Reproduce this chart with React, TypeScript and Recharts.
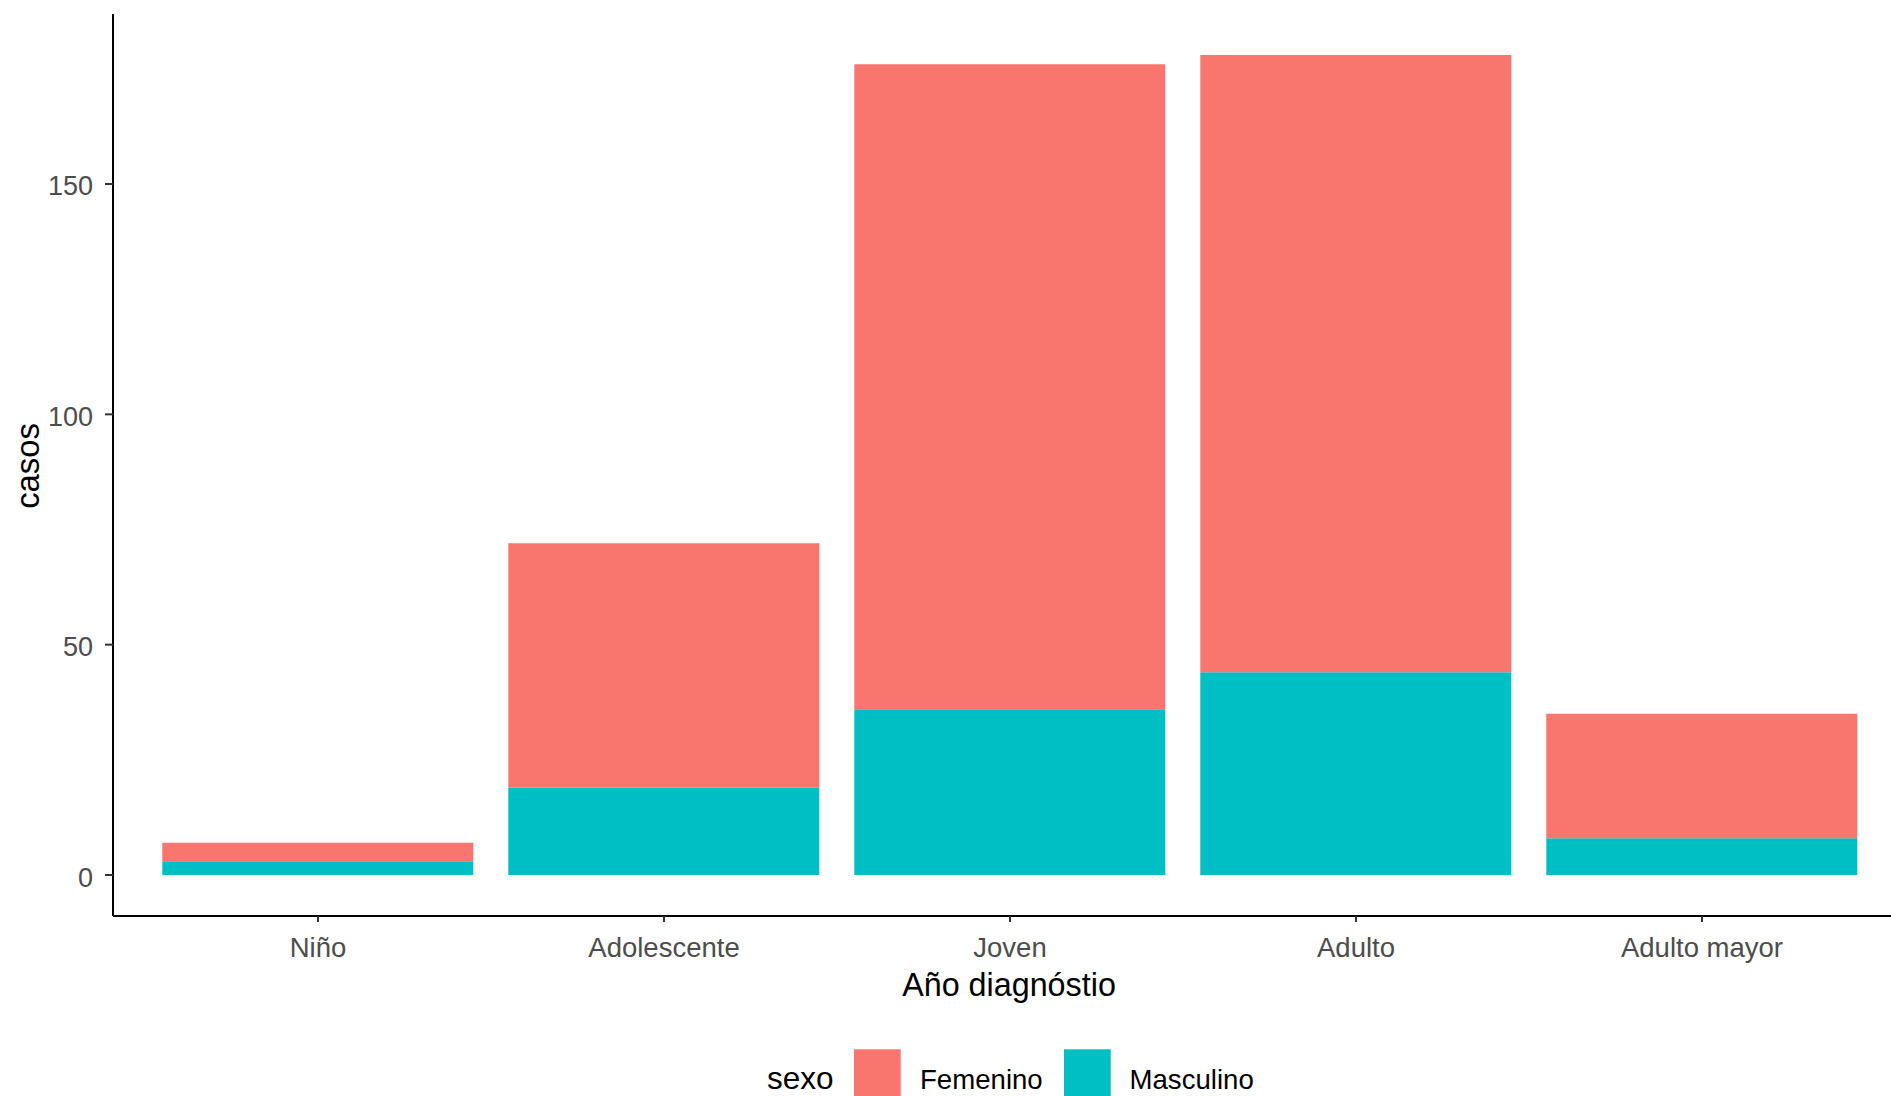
import React from 'react';
import { BarChart, Bar, XAxis, YAxis, Customized } from 'recharts';

const categorias = ['Niño', 'Adolescente', 'Joven', 'Adulto', 'Adulto mayor'];
const femenino = [4, 53, 140, 134, 27];
const masculino = [3, 19, 36, 44, 8];
const yTicks = [0, 50, 100, 150];
const serieNombres = ['Femenino', 'Masculino'];
const colores = ['#F8766D', '#00BFC4'];
const tituloX = 'Año diagnóstio';
const tituloY = 'casos';
const tituloLeyenda = 'sexo';

const data = categorias.map((c, i) => ({
  categoria: c,
  Femenino: femenino[i],
  Masculino: masculino[i],
}));

const totales = categorias.map((_, i) => femenino[i] + masculino[i]);
const maxTotal = Math.max(...totales);
const expansion = maxTotal * 0.05;
const yDomain: [number, number] = [-expansion, maxTotal + expansion];

const FONT = '"Liberation Sans", Arial, sans-serif';

const XTick = (props: any) => {
  const { x, y, payload } = props;
  return (
    <text x={x} y={y + 21.5} textAnchor="middle" fontFamily={FONT} fontSize={27.5} fill="#4D4D4D">
      {payload.value}
    </text>
  );
};

const YTick = (props: any) => {
  const { x, y, payload } = props;
  return (
    <text x={x} y={y + 11.5} textAnchor="end" fontFamily={FONT} fontSize={27} fill="#4D4D4D">
      {payload.value}
    </text>
  );
};

const Overlay = () => (
  <g>
    <text x={1009} y={996} textAnchor="middle" fontFamily={FONT} fontSize={32.3} fill="#000">
      {tituloX}
    </text>
    <text
      x={38.5}
      y={466}
      textAnchor="middle"
      fontFamily={FONT}
      fontSize={32.8}
      fill="#000"
      transform="rotate(-90, 38.5, 466)"
    >
      {tituloY}
    </text>
    <text x={767} y={1089} fontFamily={FONT} fontSize={31.5} fill="#000">
      {tituloLeyenda}
    </text>
    <rect x={854} y={1049.3} width={46.7} height={46.7} fill={colores[0]} />
    <text x={920} y={1089} fontFamily={FONT} fontSize={27.6} fill="#000">
      {serieNombres[0]}
    </text>
    <rect x={1064} y={1049.3} width={46.7} height={46.7} fill={colores[1]} />
    <text x={1129.5} y={1089} fontFamily={FONT} fontSize={27.6} fill="#000">
      {serieNombres[1]}
    </text>
  </g>
);

export default function App() {
  return (
    <div style={{ position: 'absolute', left: 0, top: 0, width: 1891, height: 1096, background: '#fff' }}>
      <BarChart
        width={1891}
        height={1096}
        data={data}
        margin={{ top: 14, right: 0, left: 0, bottom: 140 }}
        barCategoryGap="5%"
      >
        <XAxis
          dataKey="categoria"
          type="category"
          height={40}
          padding={{ left: 32, right: 16 }}
          axisLine={{ stroke: '#000', strokeWidth: 2 }}
          tickLine={{ stroke: '#333', strokeWidth: 2 }}
          tickSize={6}
          tickMargin={13}
          tick={<XTick />}
          interval={0}
        />
        <YAxis
          type="number"
          width={113}
          domain={yDomain}
          ticks={yTicks}
          allowDataOverflow
          axisLine={{ stroke: '#000', strokeWidth: 2 }}
          tickLine={{ stroke: '#333', strokeWidth: 2 }}
          tickSize={8}
          tickMargin={12}
          tick={<YTick />}
        />
        <Bar dataKey="Masculino" stackId="a" fill={colores[1]} isAnimationActive={false} />
        <Bar dataKey="Femenino" stackId="a" fill={colores[0]} isAnimationActive={false} />
        <Customized component={Overlay} />
      </BarChart>
    </div>
  );
}
